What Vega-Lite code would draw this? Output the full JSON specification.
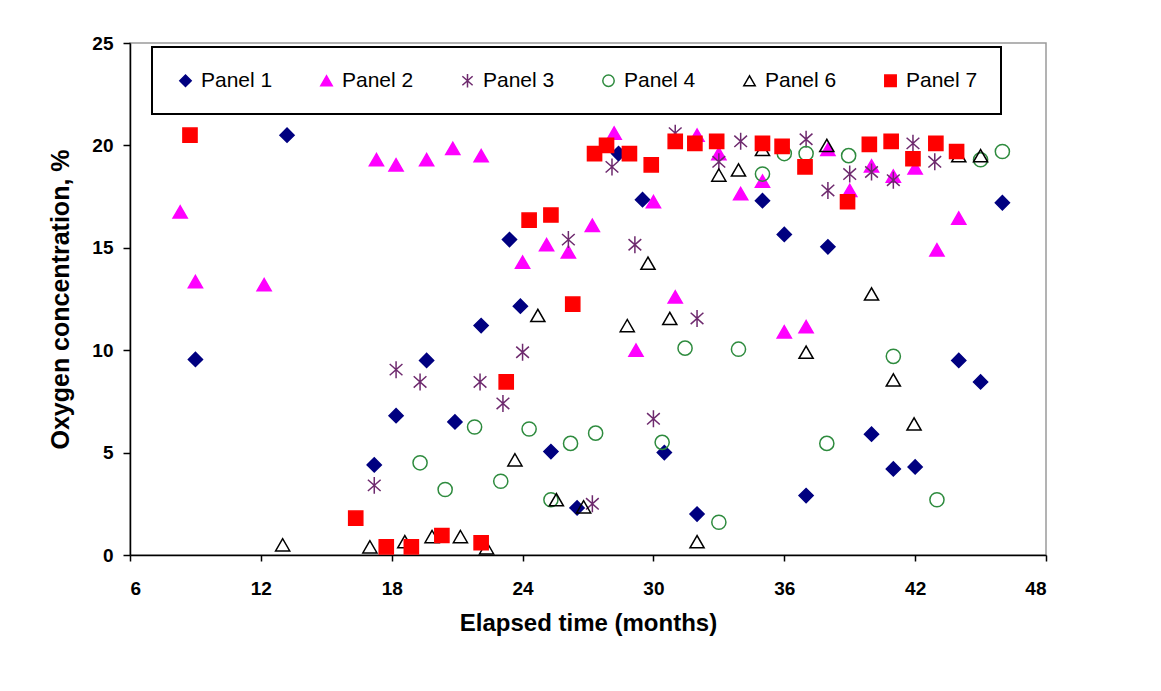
{
  "$schema": "https://vega.github.io/schema/vega-lite/v6.json",
  "autosize": {"type": "none"},
  "width": 916,
  "height": 512,
  "padding": {"left": 130, "top": 43, "right": 115, "bottom": 136},
  "background": "white",
  "config": {
    "font": "Liberation Sans",
    "view": {"stroke": "#9a9a9a", "strokeWidth": 1.5},
    "axis": {"grid": false, "domainColor": "black", "domainWidth": 1.5, "tickColor": "black", "tickWidth": 1.5, "labelColor": "black", "titleColor": "black", "labelFont": "Liberation Sans", "titleFont": "Liberation Sans", "labelFontWeight": "bold", "titleFontWeight": "bold"},
    "legend": {"orient": "none", "legendX": 22, "legendY": 4, "direction": "horizontal", "columns": 6, "padding": 23, "columnPadding": 43, "labelFontSize": 21, "labelFont": "Liberation Sans", "labelColor": "black", "symbolSize": 130, "symbolStrokeWidth": 1.5, "strokeColor": "black", "strokeWidth": 2, "fillColor": "white", "labelOffset": 5, "titleFontSize": 0}
  },
  "data": {"values": [
    {"t": 9.0, "o": 9.55, "p": "Panel 1"},
    {"t": 13.2, "o": 20.5, "p": "Panel 1"},
    {"t": 17.2, "o": 4.4, "p": "Panel 1"},
    {"t": 18.2, "o": 6.8, "p": "Panel 1"},
    {"t": 19.6, "o": 9.5, "p": "Panel 1"},
    {"t": 20.9, "o": 6.5, "p": "Panel 1"},
    {"t": 22.1, "o": 11.2, "p": "Panel 1"},
    {"t": 23.4, "o": 15.4, "p": "Panel 1"},
    {"t": 23.9, "o": 12.15, "p": "Panel 1"},
    {"t": 25.3, "o": 5.05, "p": "Panel 1"},
    {"t": 26.5, "o": 2.3, "p": "Panel 1"},
    {"t": 28.4, "o": 19.6, "p": "Panel 1"},
    {"t": 29.5, "o": 17.35, "p": "Panel 1"},
    {"t": 30.5, "o": 5.0, "p": "Panel 1"},
    {"t": 32.0, "o": 2.0, "p": "Panel 1"},
    {"t": 35.0, "o": 17.3, "p": "Panel 1"},
    {"t": 36.0, "o": 15.65, "p": "Panel 1"},
    {"t": 37.0, "o": 2.9, "p": "Panel 1"},
    {"t": 38.0, "o": 15.05, "p": "Panel 1"},
    {"t": 40.0, "o": 5.9, "p": "Panel 1"},
    {"t": 41.0, "o": 4.2, "p": "Panel 1"},
    {"t": 42.0, "o": 4.3, "p": "Panel 1"},
    {"t": 44.0, "o": 9.5, "p": "Panel 1"},
    {"t": 45.0, "o": 8.45, "p": "Panel 1"},
    {"t": 46.0, "o": 17.2, "p": "Panel 1"},
    {"t": 8.3, "o": 16.75, "p": "Panel 2"},
    {"t": 9.0, "o": 13.35, "p": "Panel 2"},
    {"t": 12.15, "o": 13.2, "p": "Panel 2"},
    {"t": 17.3, "o": 19.3, "p": "Panel 2"},
    {"t": 18.2, "o": 19.05, "p": "Panel 2"},
    {"t": 19.6, "o": 19.3, "p": "Panel 2"},
    {"t": 20.8, "o": 19.85, "p": "Panel 2"},
    {"t": 22.1, "o": 19.5, "p": "Panel 2"},
    {"t": 24.0, "o": 14.3, "p": "Panel 2"},
    {"t": 25.1, "o": 15.15, "p": "Panel 2"},
    {"t": 26.1, "o": 14.8, "p": "Panel 2"},
    {"t": 27.2, "o": 16.1, "p": "Panel 2"},
    {"t": 28.2, "o": 20.6, "p": "Panel 2"},
    {"t": 29.2, "o": 10.0, "p": "Panel 2"},
    {"t": 30.0, "o": 17.25, "p": "Panel 2"},
    {"t": 31.0, "o": 12.6, "p": "Panel 2"},
    {"t": 32.0, "o": 20.5, "p": "Panel 2"},
    {"t": 33.0, "o": 19.6, "p": "Panel 2"},
    {"t": 34.0, "o": 17.65, "p": "Panel 2"},
    {"t": 35.0, "o": 18.25, "p": "Panel 2"},
    {"t": 36.0, "o": 10.9, "p": "Panel 2"},
    {"t": 37.0, "o": 11.15, "p": "Panel 2"},
    {"t": 38.0, "o": 19.8, "p": "Panel 2"},
    {"t": 39.0, "o": 17.8, "p": "Panel 2"},
    {"t": 40.0, "o": 19.0, "p": "Panel 2"},
    {"t": 41.0, "o": 18.5, "p": "Panel 2"},
    {"t": 42.0, "o": 18.9, "p": "Panel 2"},
    {"t": 43.0, "o": 14.9, "p": "Panel 2"},
    {"t": 44.0, "o": 16.45, "p": "Panel 2"},
    {"t": 17.2, "o": 3.4, "p": "Panel 3"},
    {"t": 18.2, "o": 9.05, "p": "Panel 3"},
    {"t": 19.3, "o": 8.45, "p": "Panel 3"},
    {"t": 22.05, "o": 8.45, "p": "Panel 3"},
    {"t": 23.1, "o": 7.4, "p": "Panel 3"},
    {"t": 24.0, "o": 9.9, "p": "Panel 3"},
    {"t": 26.1, "o": 15.4, "p": "Panel 3"},
    {"t": 27.2, "o": 2.5, "p": "Panel 3"},
    {"t": 28.1, "o": 18.95, "p": "Panel 3"},
    {"t": 29.15, "o": 15.15, "p": "Panel 3"},
    {"t": 30.0, "o": 6.65, "p": "Panel 3"},
    {"t": 31.0, "o": 20.6, "p": "Panel 3"},
    {"t": 32.0, "o": 11.55, "p": "Panel 3"},
    {"t": 33.0, "o": 19.2, "p": "Panel 3"},
    {"t": 34.0, "o": 20.2, "p": "Panel 3"},
    {"t": 37.0, "o": 20.3, "p": "Panel 3"},
    {"t": 38.0, "o": 17.8, "p": "Panel 3"},
    {"t": 39.0, "o": 18.6, "p": "Panel 3"},
    {"t": 40.0, "o": 18.7, "p": "Panel 3"},
    {"t": 41.0, "o": 18.3, "p": "Panel 3"},
    {"t": 41.9, "o": 20.1, "p": "Panel 3"},
    {"t": 42.9, "o": 19.2, "p": "Panel 3"},
    {"t": 19.3, "o": 4.5, "p": "Panel 4"},
    {"t": 20.45, "o": 3.2, "p": "Panel 4"},
    {"t": 21.8, "o": 6.25, "p": "Panel 4"},
    {"t": 23.0, "o": 3.6, "p": "Panel 4"},
    {"t": 24.3, "o": 6.15, "p": "Panel 4"},
    {"t": 25.3, "o": 2.7, "p": "Panel 4"},
    {"t": 26.2, "o": 5.45, "p": "Panel 4"},
    {"t": 27.35, "o": 5.95, "p": "Panel 4"},
    {"t": 30.4, "o": 5.5, "p": "Panel 4"},
    {"t": 31.45, "o": 10.1, "p": "Panel 4"},
    {"t": 33.0, "o": 1.6, "p": "Panel 4"},
    {"t": 33.9, "o": 10.05, "p": "Panel 4"},
    {"t": 35.0, "o": 18.6, "p": "Panel 4"},
    {"t": 36.0, "o": 19.6, "p": "Panel 4"},
    {"t": 37.0, "o": 19.6, "p": "Panel 4"},
    {"t": 37.95, "o": 5.45, "p": "Panel 4"},
    {"t": 38.95, "o": 19.5, "p": "Panel 4"},
    {"t": 41.0, "o": 9.7, "p": "Panel 4"},
    {"t": 43.0, "o": 2.7, "p": "Panel 4"},
    {"t": 45.0, "o": 19.3, "p": "Panel 4"},
    {"t": 46.0, "o": 19.7, "p": "Panel 4"},
    {"t": 13.0, "o": 0.5, "p": "Panel 6"},
    {"t": 17.0, "o": 0.4, "p": "Panel 6"},
    {"t": 18.6, "o": 0.65, "p": "Panel 6"},
    {"t": 19.85, "o": 0.9, "p": "Panel 6"},
    {"t": 21.15, "o": 0.9, "p": "Panel 6"},
    {"t": 22.35, "o": 0.35, "p": "Panel 6"},
    {"t": 23.65, "o": 4.65, "p": "Panel 6"},
    {"t": 24.7, "o": 11.7, "p": "Panel 6"},
    {"t": 25.55, "o": 2.7, "p": "Panel 6"},
    {"t": 26.8, "o": 2.35, "p": "Panel 6"},
    {"t": 28.8, "o": 11.2, "p": "Panel 6"},
    {"t": 29.75, "o": 14.25, "p": "Panel 6"},
    {"t": 30.75, "o": 11.55, "p": "Panel 6"},
    {"t": 32.0, "o": 0.65, "p": "Panel 6"},
    {"t": 33.0, "o": 18.55, "p": "Panel 6"},
    {"t": 33.9, "o": 18.8, "p": "Panel 6"},
    {"t": 35.0, "o": 19.8, "p": "Panel 6"},
    {"t": 37.0, "o": 9.9, "p": "Panel 6"},
    {"t": 37.95, "o": 20.0, "p": "Panel 6"},
    {"t": 40.0, "o": 12.75, "p": "Panel 6"},
    {"t": 41.0, "o": 8.55, "p": "Panel 6"},
    {"t": 41.95, "o": 6.4, "p": "Panel 6"},
    {"t": 44.0, "o": 19.5, "p": "Panel 6"},
    {"t": 45.0, "o": 19.5, "p": "Panel 6"},
    {"t": 8.75, "o": 20.5, "p": "Panel 7"},
    {"t": 16.35, "o": 1.8, "p": "Panel 7"},
    {"t": 17.75, "o": 0.4, "p": "Panel 7"},
    {"t": 18.9, "o": 0.4, "p": "Panel 7"},
    {"t": 20.3, "o": 0.95, "p": "Panel 7"},
    {"t": 22.1, "o": 0.6, "p": "Panel 7"},
    {"t": 23.25, "o": 8.45, "p": "Panel 7"},
    {"t": 24.3, "o": 16.35, "p": "Panel 7"},
    {"t": 25.3, "o": 16.6, "p": "Panel 7"},
    {"t": 26.3, "o": 12.25, "p": "Panel 7"},
    {"t": 27.3, "o": 19.6, "p": "Panel 7"},
    {"t": 27.85, "o": 20.0, "p": "Panel 7"},
    {"t": 28.9, "o": 19.6, "p": "Panel 7"},
    {"t": 29.9, "o": 19.05, "p": "Panel 7"},
    {"t": 31.0, "o": 20.2, "p": "Panel 7"},
    {"t": 31.9, "o": 20.1, "p": "Panel 7"},
    {"t": 32.9, "o": 20.2, "p": "Panel 7"},
    {"t": 35.0, "o": 20.1, "p": "Panel 7"},
    {"t": 35.9, "o": 19.95, "p": "Panel 7"},
    {"t": 36.95, "o": 18.95, "p": "Panel 7"},
    {"t": 38.9, "o": 17.25, "p": "Panel 7"},
    {"t": 39.9, "o": 20.05, "p": "Panel 7"},
    {"t": 40.9, "o": 20.2, "p": "Panel 7"},
    {"t": 41.9, "o": 19.35, "p": "Panel 7"},
    {"t": 42.95, "o": 20.1, "p": "Panel 7"},
    {"t": 43.9, "o": 19.7, "p": "Panel 7"}
  ]},
  "mark": {"type": "point", "opacity": 1, "strokeWidth": 1.5, "size": 200},
  "encoding": {
    "x": {"field": "t", "type": "quantitative", "scale": {"domain": [6, 48], "nice": false, "zero": false},
      "axis": {"values": [6, 12, 18, 24, 30, 36, 42, 48], "title": "Elapsed time (months)", "labelFontSize": 19, "titleFontSize": 24, "tickSize": 6, "labelPadding": 18, "titlePadding": 13}},
    "y": {"field": "o", "type": "quantitative", "scale": {"domain": [0, 25], "nice": false},
      "axis": {"values": [0, 5, 10, 15, 20, 25], "title": "Oxygen concentration, %", "labelFontSize": 19, "titleFontSize": 25, "tickSize": 7, "labelPadding": 10, "titlePadding": 18}},
    "shape": {"field": "p", "type": "nominal", "title": "",
      "scale": {"domain": ["Panel 1", "Panel 2", "Panel 3", "Panel 4", "Panel 6", "Panel 7"],
        "range": ["diamond", "triangle-up", "M0,-1.2V1.2M-0.9,-0.8L0.9,0.8M-0.9,0.8L0.9,-0.8", "circle", "triangle-up", "square"]}},
    "fill": {"field": "p", "type": "nominal", "title": "",
      "scale": {"domain": ["Panel 1", "Panel 2", "Panel 3", "Panel 4", "Panel 6", "Panel 7"],
        "range": ["#000080", "#ff00ff", "transparent", "transparent", "transparent", "#ff0000"]}},
    "stroke": {"field": "p", "type": "nominal", "title": "",
      "scale": {"domain": ["Panel 1", "Panel 2", "Panel 3", "Panel 4", "Panel 6", "Panel 7"],
        "range": ["#000080", "#ff00ff", "#6e2a6e", "#2e8b3e", "#000000", "#ff0000"]}}
  }
}
